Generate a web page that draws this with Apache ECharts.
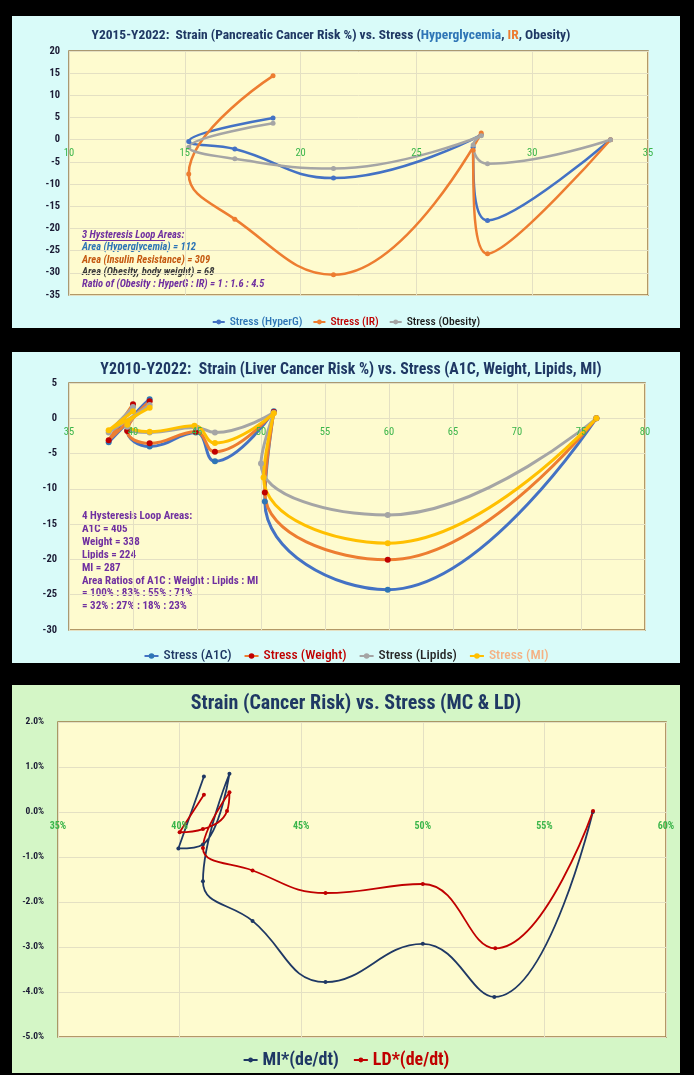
<!DOCTYPE html>
<html>
<head>
<meta charset="utf-8">
<script src="https://cdn.jsdelivr.net/npm/echarts@6/dist/echarts.min.js"></script>
<style>
  html, body { margin: 0; padding: 0; background: #000; width: 694px; height: 1075px; overflow: hidden; }
  .panel { position: absolute; }
  #pancreas { left: 12px; top: 16px; width: 668px; height: 312px; background: #d9fbf9; }
  #liver { left: 12px; top: 352px; width: 668px; height: 311px; background: #d9fbf9; }
  #mcld { left: 12px; top: 685px; width: 668px; height: 388px; background: #d4f6c6; }
</style>
</head>
<body>
<div id="pancreas" class="panel"></div>
<div id="liver" class="panel"></div>
<div id="mcld" class="panel"></div>
<script>
// ---- Pancreatic cancer risk (strain, %) vs. stress ----
const pancreasStress  = [18.81, 15.17, 17.16, 21.42, 27.80, 27.45, 28.07, 33.38];
const strainHyperG    = [4.9, -0.4, -2.1, -8.65, 1.1, -1.7, -18.2, 0];
const strainIR        = [14.4, -7.7, -17.9, -30.45, 1.5, -2.4, -25.7, 0];
const strainObesity   = [3.7, -1.7, -4.3, -6.5, 0.9, -1.2, -5.4, 0];

// ---- Liver cancer risk (strain, %) vs. stress ----
const stressA1C       = [40.0, 38.1, 41.3, 39.55, 41.3, 44.9, 46.4, 51.0, 50.3, 59.9, 76.2];
const stressWeight    = [40.0, 38.1, 41.3, 39.55, 41.3, 44.9, 46.4, 51.0, 50.3, 59.9, 76.2];
const stressLipids    = [40.0, 38.1, 41.3, 39.55, 41.3, 44.9, 46.4, 51.0, 50.0, 59.9, 76.2];
const stressMI        = [40.0, 38.1, 41.3, 39.55, 41.3, 44.8, 46.4, 51.0, 50.2, 59.9, 76.2];
const strainA1C       = [1.8, -3.4, 2.7, -1.7, -4.0, -2.0, -6.1, 1.0, -11.8, -24.3, 0];
const strainWeight    = [2.0, -3.1, 2.4, -1.8, -3.55, -1.9, -4.75, 0.9, -10.5, -20.05, 0];
const strainLipids    = [1.6, -2.0, 1.9, -1.2, -2.0, -1.3, -2.0, 0.8, -6.4, -13.7, 0];
const strainMI        = [1.0, -1.7, 1.5, -0.9, -1.9, -1.05, -3.5, 0.7, -8.4, -17.7, 0];

// ---- Cancer risk vs. stress (MC & LD), in percent ----
const miStress        = [41.0, 39.95, 40.96, 42.05, 40.96, 43.0, 46.0, 50.0, 52.94, 56.99];
const miStrain        = [0.79, -0.81, -0.72, 0.85, -1.54, -2.42, -3.78, -2.93, -4.11, 0];
const ldStress        = [41.0, 40.0, 40.96, 41.95, 42.05, 40.96, 43.0, 46.0, 50.0, 52.98, 57.0];
const ldStrain        = [0.385, -0.45, -0.38, 0.02, 0.44, -0.8, -1.3, -1.8, -1.6, -3.03, 0.02];

// annotation texts
const pancreasNotes = [
  ['3 Hysteresis Loop Areas:', '#7030a0'],
  ['Area (Hyperglycemia) = 112', '#2e75b6'],
  ['Area (Insulin Resistance) = 309', '#c55a11'],
  ['Area (Obesity, body weight) = 68', '#3a3a3a'],
  ['Ratio of (Obesity : HyperG : IR) = 1 : 1.6 : 4.5', '#7030a0']
];
const liverNotes = [
  '4 Hysteresis Loop Areas:',
  'A1C = 405',
  'Weight = 338',
  'Lipids = 224',
  'MI = 287',
  'Area Ratios of A1C : Weight : Lipids : MI',
  '= 100% : 83% : 55% : 71%',
  '= 32% : 27% : 18% : 23%'
];

const NARROW = "'Roboto Condensed', 'Open Sans Condensed', 'DejaVu Sans Condensed', sans-serif";
const PLOT_BG = '#fefbcf';
const PLOT_BORDER = '#9b7a45';
const GRID_LINE = '#e4e0c3';
const X_LABEL = '#3bb54a';
const Y_LABEL = '#1c1c35';

function pairs(xs, ys) { return xs.map((x, i) => [x, ys[i]]); }

function lineSeries(name, xs, ys, lineColor, markerColor, width, symbolSize) {
  return {
    name: name,
    type: 'line',
    xAxisIndex: 0,
    data: pairs(xs, ys),
    smooth: 0.45,
    symbol: 'circle',
    symbolSize: symbolSize,
    showSymbol: true,
    lineStyle: { color: lineColor, width: width },
    itemStyle: { color: markerColor },
    emphasis: { disabled: true },
    animation: false
  };
}

function valueAxis(min, max, interval, labelOpts) {
  return Object.assign({
    type: 'value', min: min, max: max, interval: interval,
    axisLine: { show: false, onZero: false },
    axisTick: { show: false },
    splitLine: { show: true, lineStyle: { color: GRID_LINE, width: 1 } }
  }, labelOpts);
}

// The labels of the horizontal axis sit just under the y = 0 line,
// so the label margin is pulled up from the plot's bottom edge to that line.
function zeroLineMargin(plotHeight, yMin, yMax, gap) {
  return -plotHeight * (0 - yMin) / (yMax - yMin) + gap;
}

// Horizontal axis pair: one draws the vertical grid lines under the curves,
// the other (on its own layer) draws the tick labels on top of the curves.
function xAxes(min, max, interval, labelStyle) {
  return [
    valueAxis(min, max, interval, { axisLabel: { show: false } }),
    valueAxis(min, max, interval, {
      position: 'bottom', zlevel: 1,
      splitLine: { show: false },
      axisLabel: Object.assign({ showMinLabel: true, showMaxLabel: true }, labelStyle)
    })
  ];
}

function plotGrid(left, top, width, height) {
  return {
    left: left, top: top, width: width, height: height,
    show: true, backgroundColor: PLOT_BG, borderColor: PLOT_BORDER, borderWidth: 1.5,
    containLabel: false, outerBoundsMode: 'none'
  };
}

// ---------- Chart 1 ----------
const c1 = echarts.init(document.getElementById('pancreas'), null, { renderer: 'canvas' });
const notes1 = pancreasNotes.map((n, i) => ({
  type: 'text', left: 70, top: 214 + i * 12.2,
  style: { text: n[0], fill: n[1], font: 'italic bold 10.5px ' + NARROW }
}));
notes1.push({
  type: 'line', shape: { x1: 70, y1: 224.5, x2: 153, y2: 224.5 },
  style: { stroke: '#7030a0', lineWidth: 1 }
});
c1.setOption({
  animation: false,
  title: {
    text: '{a|Y2015-Y2022:  Strain (Pancreatic Cancer Risk %) vs. Stress (}{b|Hyperglycemia}{a|, }{c|IR}{a|, Obesity)}',
    left: 314, top: 8, textAlign: 'center',
    textStyle: {
      rich: {
        a: { color: '#1f3864', fontSize: 13.5, fontWeight: 'bold', fontFamily: NARROW },
        b: { color: '#2e75b6', fontSize: 13.5, fontWeight: 'bold', fontFamily: NARROW },
        c: { color: '#ed7d31', fontSize: 13.5, fontWeight: 'bold', fontFamily: NARROW }
      }
    }
  },
  grid: plotGrid(57, 35, 579, 244),
  xAxis: xAxes(10, 35, 5, {
    color: X_LABEL, fontSize: 10.5, fontFamily: NARROW, margin: zeroLineMargin(244, -35, 20, 8)
  }),
  yAxis: valueAxis(-35, 20, 5, {
    axisLabel: { color: Y_LABEL, fontSize: 10.5, fontWeight: 'bold', fontFamily: NARROW, margin: 9 }
  }),
  legend: {
    left: 'center', top: 295, itemGap: 10, itemWidth: 12, itemHeight: 6,
    textStyle: { fontSize: 11.5, fontFamily: NARROW, fontWeight: 500 },
    data: [
      { name: 'Stress (HyperG)', textStyle: { color: '#2e75b6' } },
      { name: 'Stress (IR)', textStyle: { color: '#c00000' } },
      { name: 'Stress (Obesity)', textStyle: { color: '#1a1a1a' } }
    ]
  },
  graphic: notes1,
  series: [
    lineSeries('Stress (HyperG)', pancreasStress, strainHyperG, '#4472c4', '#4472c4', 2.5, 5),
    lineSeries('Stress (IR)', pancreasStress, strainIR, '#ed7d31', '#ed7d31', 2.5, 5),
    lineSeries('Stress (Obesity)', pancreasStress, strainObesity, '#a5a5a5', '#a5a5a5', 2.5, 5)
  ]
});

// ---------- Chart 2 ----------
const c2 = echarts.init(document.getElementById('liver'), null, { renderer: 'canvas' });
const notes2 = liverNotes.map((t, i) => ({
  type: 'text', left: 70, top: 159 + i * 12.85,
  style: { text: t, fill: '#7030a0', font: 'bold 11px ' + NARROW }
}));
c2.setOption({
  animation: false,
  title: {
    text: 'Y2010-Y2022:  Strain (Liver Cancer Risk %) vs. Stress (A1C, Weight, Lipids, MI)',
    left: 334, top: 5, textAlign: 'center',
    textStyle: { color: '#1f3864', fontSize: 15.8, fontWeight: 'bold', fontFamily: NARROW }
  },
  grid: plotGrid(57, 31, 576, 247),
  xAxis: xAxes(35, 80, 5, {
    color: X_LABEL, fontSize: 10.5, fontFamily: NARROW, margin: zeroLineMargin(247, -30, 5, 9)
  }),
  yAxis: valueAxis(-30, 5, 5, {
    axisLabel: { color: Y_LABEL, fontSize: 10.5, fontWeight: 'bold', fontFamily: NARROW, margin: 12 }
  }),
  legend: {
    left: 'center', top: 292, itemGap: 12, itemWidth: 14, itemHeight: 7,
    textStyle: { fontSize: 13.5, fontFamily: NARROW, fontWeight: 500 },
    data: [
      { name: 'Stress (A1C)', textStyle: { color: '#1f3864' } },
      { name: 'Stress (Weight)', textStyle: { color: '#c00000' } },
      { name: 'Stress (Lipids)', textStyle: { color: '#262626' } },
      { name: 'Stress (MI)', textStyle: { color: '#f4b183' } }
    ]
  },
  graphic: notes2,
  series: [
    lineSeries('Stress (A1C)', stressA1C, strainA1C, '#4472c4', '#2e75b6', 3, 6),
    lineSeries('Stress (Weight)', stressWeight, strainWeight, '#ed7d31', '#c00000', 3, 6),
    lineSeries('Stress (Lipids)', stressLipids, strainLipids, '#a5a5a5', '#a5a5a5', 3, 6),
    lineSeries('Stress (MI)', stressMI, strainMI, '#ffc000', '#ffc000', 3, 6)
  ]
});

// ---------- Chart 3 ----------
const c3 = echarts.init(document.getElementById('mcld'), null, { renderer: 'canvas' });
const pct = v => v.toFixed(1) + '%';
c3.setOption({
  animation: false,
  title: {
    text: 'Strain (Cancer Risk) vs. Stress (MC & LD)',
    left: 339, top: 4, textAlign: 'center',
    textStyle: { color: '#1f3864', fontSize: 20, fontWeight: 'bold', fontFamily: NARROW }
  },
  grid: plotGrid(46, 37, 608, 315),
  xAxis: xAxes(35, 60, 5, {
    color: X_LABEL, fontSize: 10, fontWeight: 'bold', fontFamily: NARROW,
    margin: zeroLineMargin(315, -5, 2, 9), formatter: v => v + '%'
  }),
  yAxis: valueAxis(-5, 2, 1, {
    axisLabel: { color: Y_LABEL, fontSize: 9.5, fontWeight: 'bold', fontFamily: NARROW, margin: 14, formatter: pct }
  }),
  legend: {
    left: 'center', top: 361, itemGap: 14, itemWidth: 14, itemHeight: 6,
    textStyle: { fontSize: 18, fontWeight: 'bold', fontFamily: NARROW },
    data: [
      { name: 'MI*(de/dt)', textStyle: { color: '#1f3864' } },
      { name: 'LD*(de/dt)', textStyle: { color: '#c00000' } }
    ]
  },
  series: [
    lineSeries('MI*(de/dt)', miStress, miStrain, '#1f3864', '#1f3864', 1.8, 4),
    lineSeries('LD*(de/dt)', ldStress, ldStrain, '#c00000', '#c00000', 1.8, 4)
  ]
});
</script>
</body>
</html>
